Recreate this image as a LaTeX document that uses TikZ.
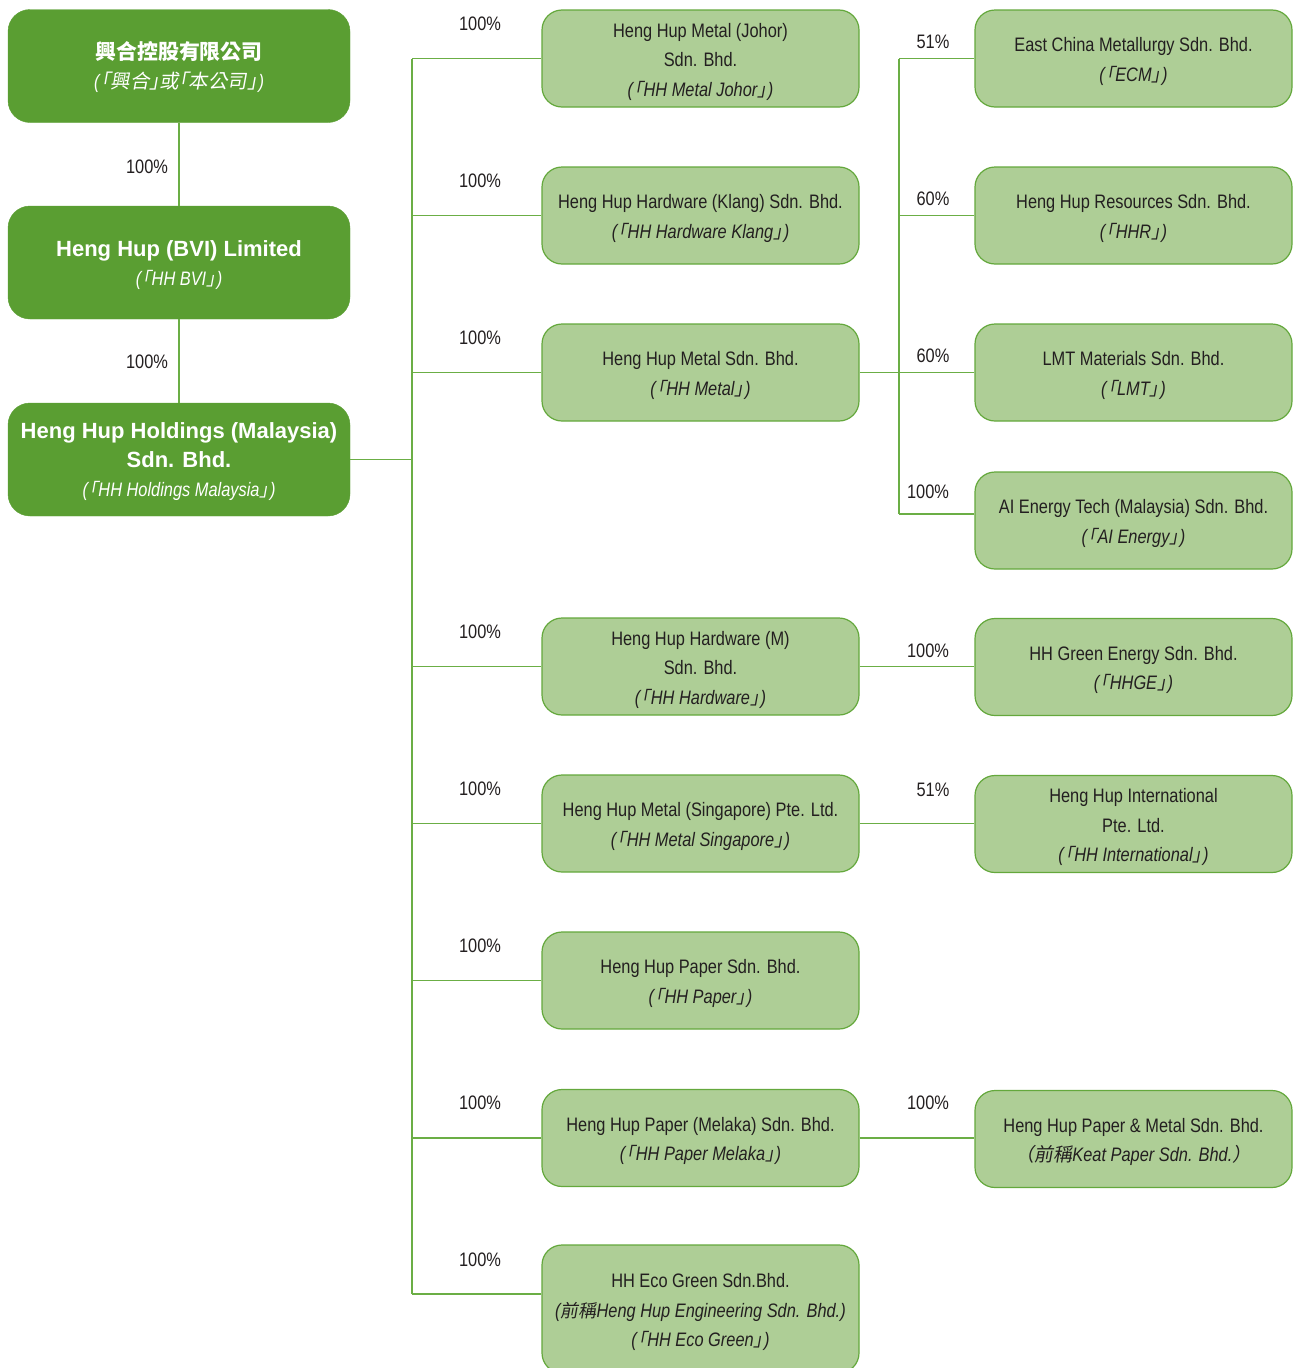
\documentclass[tikz,border=0pt]{standalone}
\usepackage{fontspec}
\setmainfont{Liberation Sans}[FakeStretch=0.84]
\newfontfamily\widefam{Liberation Sans}
\newfontfamily\cjkit{Noto Sans CJK TC}[FakeSlant=0.18, RawFeature=+halt, Scale=0.92]
\newfontfamily\cjkith{Noto Sans CJK TC}[FakeSlant=0.18, RawFeature=+halt, Scale=1.0]
\newfontfamily\cjkitw{Noto Sans CJK TC}[FakeSlant=0.18, Scale=0.97]
\newfontfamily\cjkup{Noto Sans CJK TC}[Scale=0.95]
\definecolor{dkg}{HTML}{5A9E32}
\definecolor{ltg}{HTML}{AECE96}
\definecolor{bdr}{HTML}{64A83C}
\definecolor{lng}{HTML}{6BAE45}
\definecolor{txt}{HTML}{231F20}
\newcommand\qt[1]{\textit{(\kern1.5pt{\cjkit 「}#1{\cjkit 」}\kern1.5pt)}}
\newcommand\topstrut{\rule{0pt}{20.5pt}}
\begin{document}
\begin{tikzpicture}[x=1pt,y=-1pt,
  topbox/.style={draw=dkg, fill=dkg, rounded corners=22pt, minimum width=342pt, minimum height=113pt,
    text=white, align=center, inner sep=0pt, font=\widefam\bfseries\fontsize{22}{29}\selectfont},
  subbox/.style={draw=bdr, line width=1.2pt, fill=ltg, rounded corners=20pt, minimum width=317pt,
    minimum height=97pt, text=txt, align=center, inner sep=0pt, font=\fontsize{19.5}{29.5}\selectfont},
  conn/.style={draw=lng, line width=1.5pt},
  pct/.style={text=txt, inner sep=0pt, font=\fontsize{19.5}{22}\selectfont}]
\useasboundingbox (0,0) rectangle (1293,1368);
% left column
\node[topbox] (hh) at (179,66) {\topstrut{\cjkup\bfseries 興合控股有限公司}\\{\normalfont\fontsize{19.5}{29}\selectfont\itshape (\kern1.5pt{\cjkith 「興合」或「本公司」}\kern1.5pt)}};
\node[topbox] (bvi) at (179,262.5) {\topstrut Heng Hup (BVI) Limited\\{\normalfont\fontsize{19.5}{29}\selectfont\qt{HH BVI}}};
\node[topbox] (hm) at (179,459.5) {\topstrut Heng Hup Holdings (Malaysia)\\Sdn. Bhd.\\{\normalfont\fontsize{19.5}{29}\selectfont\qt{HH Holdings Malaysia}}};
% middle column
\node[subbox] (m1) at (700.5,58.5) {\topstrut Heng Hup Metal (Johor)\\Sdn. Bhd.\\\qt{HH Metal Johor}};
\node[subbox] (m2) at (700.5,215.5) {\topstrut Heng Hup Hardware (Klang) Sdn. Bhd.\\\qt{HH Hardware Klang}};
\node[subbox] (m3) at (700.5,372.5) {\topstrut Heng Hup Metal Sdn. Bhd.\\\qt{HH Metal}};
\node[subbox] (m4) at (700.5,666.5) {\topstrut Heng Hup Hardware (M)\\Sdn. Bhd.\\\qt{HH Hardware}};
\node[subbox] (m5) at (700.5,823.5) {\topstrut Heng Hup Metal (Singapore) Pte. Ltd.\\\qt{HH Metal Singapore}};
\node[subbox] (m6) at (700.5,980.5) {\topstrut Heng Hup Paper Sdn. Bhd.\\\qt{HH Paper}};
\node[subbox] (m7) at (700.5,1138) {\topstrut Heng Hup Paper (Melaka) Sdn. Bhd.\\\qt{HH Paper Melaka}};
\node[subbox, minimum height=128pt] (m8) at (700.5,1309) {\topstrut HH Eco Green Sdn.Bhd.\\\textit{({\cjkit 前稱}Heng Hup Engineering Sdn. Bhd.)}\\\qt{HH Eco Green}};
% right column
\node[subbox] (r1) at (1133.5,58.5) {\topstrut East China Metallurgy Sdn. Bhd.\\\qt{ECM}};
\node[subbox] (r2) at (1133.5,215.5) {\topstrut Heng Hup Resources Sdn. Bhd.\\\qt{HHR}};
\node[subbox] (r3) at (1133.5,372.5) {\topstrut LMT Materials Sdn. Bhd.\\\qt{LMT}};
\node[subbox] (r4) at (1133.5,520.5) {\topstrut AI Energy Tech (Malaysia) Sdn. Bhd.\\\qt{AI Energy}};
\node[subbox] (r5) at (1133.5,667) {\topstrut HH Green Energy Sdn. Bhd.\\\qt{HHGE}};
\node[subbox] (r6) at (1133.5,824) {\topstrut Heng Hup International\\Pte. Ltd.\\\qt{HH International}};
\node[subbox] (r7) at (1133.5,1139) {\topstrut Heng Hup Paper \& Metal Sdn. Bhd.\\\textit{{\cjkitw （前稱}Keat Paper Sdn. Bhd.{\cjkitw ）}}};
% trunks
\coordinate (tr) at (412,0);
\coordinate (rt) at (899,0);
% connectors
\draw[conn] (hh) -- (bvi);
\draw[conn] (bvi) -- (hm);
\draw[conn] (hm.east) -- (hm.east -| tr);
\draw[conn] (m1.west -| tr) -- ([yshift=15pt]m8.west -| tr);
\foreach \n in {m1,m2,m3,m4,m5,m6,m7}{\draw[conn] (\n.west) -- (\n.west -| tr);}
\draw[conn] ([yshift=15pt]m8.west) -- ([yshift=15pt]m8.west -| tr);
\draw[conn] (m3.east) -- (m3.east -| rt);
\draw[conn] (r1.west -| rt) -- ([yshift=6.5pt]r4.west -| rt);
\foreach \n in {r1,r2,r3}{\draw[conn] (\n.west) -- (\n.west -| rt);}
\draw[conn] ([yshift=6.5pt]r4.west) -- ([yshift=6.5pt]r4.west -| rt);
\draw[conn] (m4.east) -- (m4.east -| r5.west);
\draw[conn] (m5.east) -- (m5.east -| r6.west);
\draw[conn] (m7.east) -- (m7.east -| r7.west);
% labels
\node[pct] (p1) at (147,167) {100\%};
\node[pct] (p2) at (147,362) {100\%};
\foreach \y [count=\i] in {24,181,338,632,789,946,1103,1260}{\node[pct] (pm\i) at (480,\y) {100\%};}
\node[pct] (pr1) at (933,42) {51\%};
\node[pct] (pr2) at (933,199) {60\%};
\node[pct] (pr3) at (933,356) {60\%};
\node[pct] (pr4) at (928,492) {100\%};
\node[pct] (pr5) at (928,651) {100\%};
\node[pct] (pr6) at (933,790) {51\%};
\node[pct] (pr7) at (928,1103) {100\%};
\end{tikzpicture}
\end{document}
